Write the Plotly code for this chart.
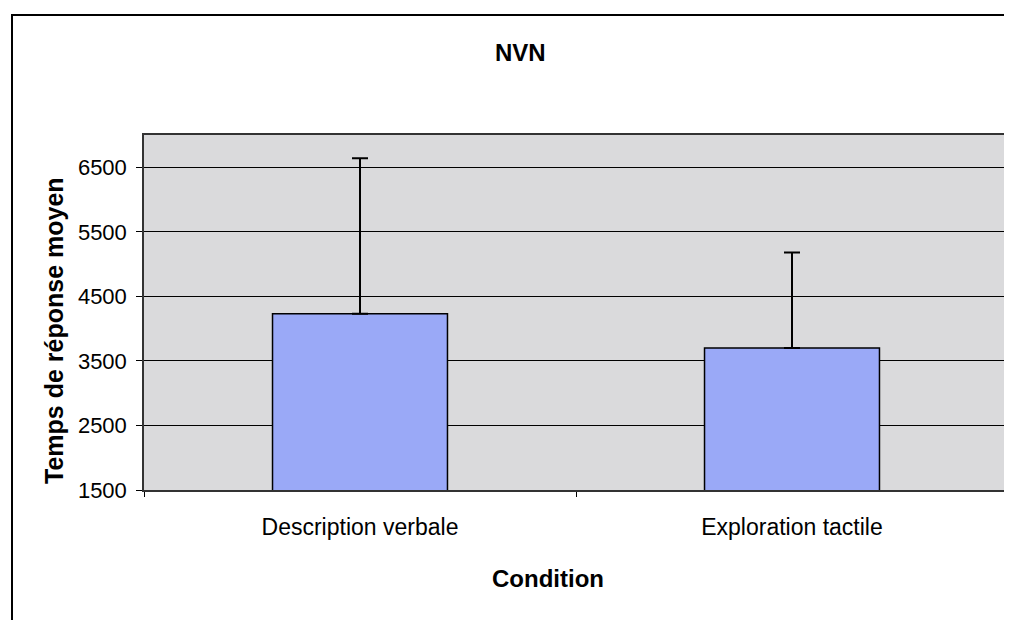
import plotly.graph_objects as go

categories = ["Description verbale", "Exploration tactile"]
means = [4230, 3700]
err_plus = [2410, 1480]
err_minus = [0, 0]
y_ticks = [1500, 2500, 3500, 4500, 5500, 6500]
title_text = "NVN"
x_title = "Condition"
y_title = "Temps de réponse moyen"

# page body has an 8px default margin; work in reference pixel coords minus that offset
OFF = 8
W, H = 1012 - OFF, 620 - OFF
L, R, T, B = 144 - OFF, 1008 - OFF, 135 - OFF, 490 - OFF
pw, ph = R - L, B - T

def px(x):
    return (x - OFF - L) / pw

def py(y):
    return (B - (y - OFF)) / ph

fig = go.Figure()
fig.add_trace(go.Bar(
    x=categories, y=means, width=0.405,
    marker=dict(color="#9aa9f7", line=dict(color="black", width=1.5)),
    error_y=dict(type="data", symmetric=False, array=err_plus, arrayminus=err_minus,
                 color="black", thickness=2, width=8),
    showlegend=False,
))

fig.update_layout(
    width=W, height=H,
    margin=dict(l=L, r=W - R, t=T, b=H - B, autoexpand=False),
    paper_bgcolor="white",
    plot_bgcolor="#dadadc",
    font=dict(family="Liberation Sans, Arial, sans-serif", color="black"),
    xaxis=dict(
        type="category", tickson="boundaries", ticks="outside", ticklen=5,
        tickcolor="black", showline=True, linecolor="#333", linewidth=1.5, mirror=True,
        showgrid=False,
        tickfont=dict(family="Liberation Sans Narrow, Arial Narrow, sans-serif", size=23),
        ticklabelstandoff=16,
    ),
    yaxis=dict(
        range=[1500, 7000], tickvals=y_ticks, ticks="outside", ticklen=6,
        tickcolor="black", showline=True, linecolor="#333", linewidth=1.5, mirror=True,
        showgrid=True, gridcolor="black", gridwidth=1, zeroline=False,
        tickfont=dict(family="Liberation Sans, Arial, sans-serif", size=22),
        ticklabelstandoff=5,
    ),
    annotations=[
        dict(text="<b>" + title_text + "</b>", x=px(520), y=py(52), xref="paper", yref="paper",
             showarrow=False, xanchor="center", yanchor="middle",
             font=dict(family="Liberation Sans Narrow, Arial Narrow, sans-serif", size=24)),
        dict(text="<b>" + x_title + "</b>", x=px(548), y=py(578), xref="paper", yref="paper",
             showarrow=False, xanchor="center", yanchor="middle",
             font=dict(family="Liberation Sans Narrow, Arial Narrow, sans-serif", size=24)),
        dict(text="<b>" + y_title + "</b>", x=px(54), y=py(331), xref="paper", yref="paper",
             showarrow=False, xanchor="center", yanchor="middle", textangle=-90,
             font=dict(family="Liberation Sans, Arial, sans-serif", size=25)),
    ],
    shapes=[
        dict(type="rect", xref="paper", yref="paper",
             x0=px(12), x1=px(1030), y0=py(640), y1=py(15),
             line=dict(color="black", width=2), fillcolor="rgba(0,0,0,0)", layer="below"),
    ],
)

fig.write_html("out.html")
